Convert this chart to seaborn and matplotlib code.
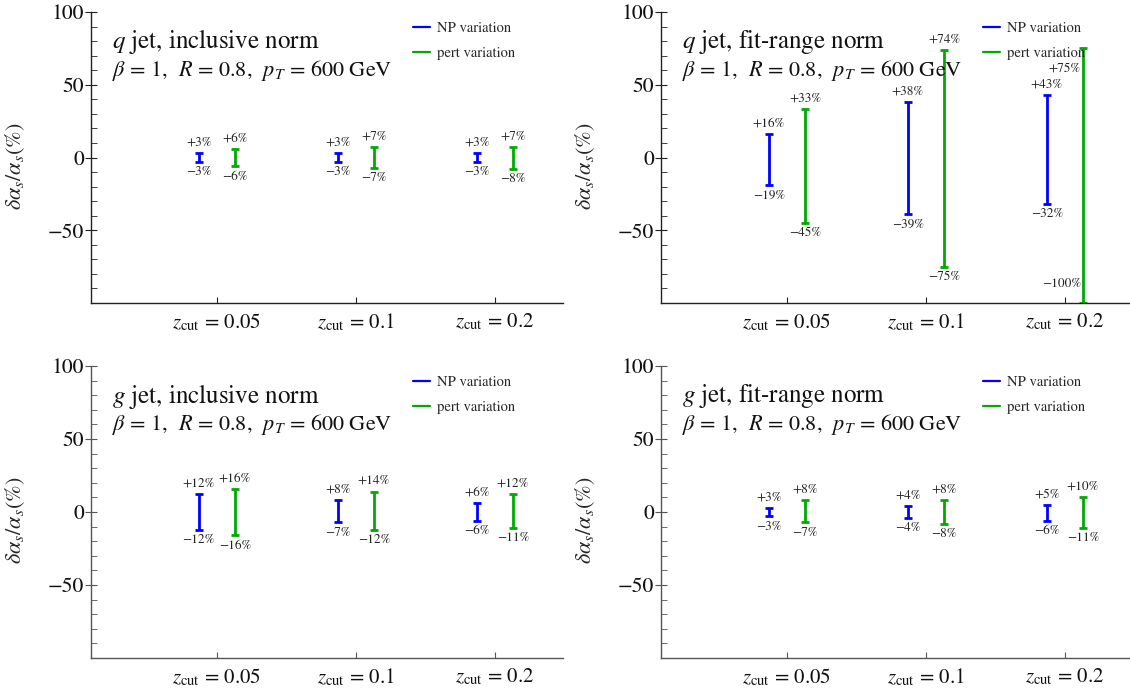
import numpy as np
import matplotlib
matplotlib.use("Agg")
import matplotlib.pyplot as plt
from matplotlib.lines import Line2D
from matplotlib.ticker import MultipleLocator, FixedLocator
import seaborn as sns

# ---------------- data ----------------
zcuts = ["0.05", "0.1", "0.2"]
panel_titles = [r"$q$ jet, inclusive norm", r"$q$ jet, fit-range norm",
                r"$g$ jet, inclusive norm", r"$g$ jet, fit-range norm"]
subtitle = r"$\beta$ = 1,  $R$ = 0.8,  $p_T$ = 600 GeV"

q_incl_np_up = [3, 3, 3]
q_incl_np_dn = [3, 3, 3]
q_incl_pert_up = [6, 7, 7]
q_incl_pert_dn = [6, 7, 8]

q_fit_np_up = [16, 38, 43]
q_fit_np_dn = [19, 39, 32]
q_fit_pert_up = [33, 74, 75]
q_fit_pert_dn = [45, 75, 100]

g_incl_np_up = [12, 8, 6]
g_incl_np_dn = [12, 7, 6]
g_incl_pert_up = [16, 14, 12]
g_incl_pert_dn = [16, 12, 11]

g_fit_np_up = [3, 4, 5]
g_fit_np_dn = [3, 4, 6]
g_fit_pert_up = [8, 8, 10]
g_fit_pert_dn = [7, 8, 11]

series_names = ["NP variation", "pert variation"]

# ---------------- style ----------------
sns.set_theme(style="ticks")
plt.rcParams["font.family"] = ["STIXGeneral", "DejaVu Serif"]
plt.rcParams["mathtext.fontset"] = "stix"

BLUE = "#0000ff"
GREEN = "#00aa00"
colors = [BLUE, GREEN]

panels = [
    (q_incl_np_up, q_incl_np_dn, q_incl_pert_up, q_incl_pert_dn),
    (q_fit_np_up, q_fit_np_dn, q_fit_pert_up, q_fit_pert_dn),
    (g_incl_np_up, g_incl_np_dn, g_incl_pert_up, g_incl_pert_dn),
    (g_fit_np_up, g_fit_np_dn, g_fit_pert_up, g_fit_pert_dn),
]

W, H = 1130, 693
fig = plt.figure(figsize=(W / 100, H / 100), dpi=100)
rects = [
    [91 / W, (H - 303) / H, 472 / W, 291 / H],
    [661 / W, (H - 303) / H, 472 / W, 291 / H],
    [91 / W, (H - 658) / H, 472 / W, 292 / H],
    [661 / W, (H - 658) / H, 472 / W, 292 / H],
]
spine_colors = ["#222222", "#222222", "#555555", "#555555"]

# label overrides (layout only) for labels that would fall outside the frame
overrides = {(1, 1, 2, "up"): (-0.13, 61), (1, 1, 2, "dn"): (-0.15, -87)}

xpos = np.arange(1, len(zcuts) + 1)
offsets = [-0.13, 0.13]

for pi, (ax_rect, data) in enumerate(zip(rects, panels)):
    ax = fig.add_axes(ax_rect)
    ups = [data[0], data[2]]
    dns = [data[1], data[3]]
    for si in range(2):
        up = np.array(ups[si], dtype=float)
        dn = np.array(dns[si], dtype=float)
        x = xpos + offsets[si]
        ax.errorbar(x, np.zeros_like(up), yerr=[dn, up], fmt="none",
                    ecolor=colors[si], elinewidth=2.0, capsize=3.2,
                    capthick=2.0, clip_on=True)
        for k in range(len(x)):
            for kind, val, sgn, txt in (("up", up[k], 1, f"+{int(up[k])}%"),
                                         ("dn", dn[k], -1, f"\u2212{int(dn[k])}%")):
                key = (pi, si, k, kind)
                if key in overrides:
                    dx, yy = overrides[key]
                    ax.text(x[k] + dx, yy, txt, ha="center", va="center",
                            fontsize=9.5, color="#222222")
                else:
                    ax.annotate(txt, (x[k], sgn * val), xytext=(0, sgn * 7.5),
                                textcoords="offset points", ha="center",
                                va="center", fontsize=9.5, color="#222222")

    ax.set_xlim(0.094, 3.49)
    ax.set_ylim(-100, 100)
    ax.set_xticks(xpos)
    ax.set_xticklabels([r"$z_{\rm cut}$ = " + z for z in zcuts], fontsize=15)
    ax.yaxis.set_major_locator(FixedLocator([-50, 0, 50, 100]))
    ax.yaxis.set_minor_locator(MultipleLocator(10))
    ax.tick_params(axis="y", which="major", direction="inout", length=9,
                   width=0.8, labelsize=15.5, pad=0.5, colors=spine_colors[pi],
                   labelcolor="#111111")
    ax.tick_params(axis="y", which="minor", direction="in", length=4,
                   width=0.6, colors=spine_colors[pi])
    ax.tick_params(axis="x", which="major", direction="in", length=4,
                   width=0.8, pad=6, colors=spine_colors[pi],
                   labelcolor="#111111")
    sns.despine(ax=ax)
    for s in ("left", "bottom"):
        ax.spines[s].set_color(spine_colors[pi])
        ax.spines[s].set_linewidth(1.0)
    ax.set_ylabel(r"$\delta\alpha_s/\alpha_s(\%)$", fontsize=16)
    ax.yaxis.set_label_coords(-0.135, 0.47)

    ax.text(0.045, 0.897, panel_titles[pi], transform=ax.transAxes,
            va="center", ha="left", fontsize=18, color="#111111")
    ax.text(0.045, 0.80, subtitle, transform=ax.transAxes,
            va="center", ha="left", fontsize=16, color="#111111")

    handles = [Line2D([0], [0], color=c, lw=1.6) for c in colors]
    ax.legend(handles, series_names, loc="upper left",
              bbox_to_anchor=(0.682, 0.967), frameon=False, fontsize=10.5,
              handlelength=1.2, handletextpad=0.45, labelspacing=0.8,
              borderpad=0, borderaxespad=0)

fig.savefig("out.png", dpi=100)
